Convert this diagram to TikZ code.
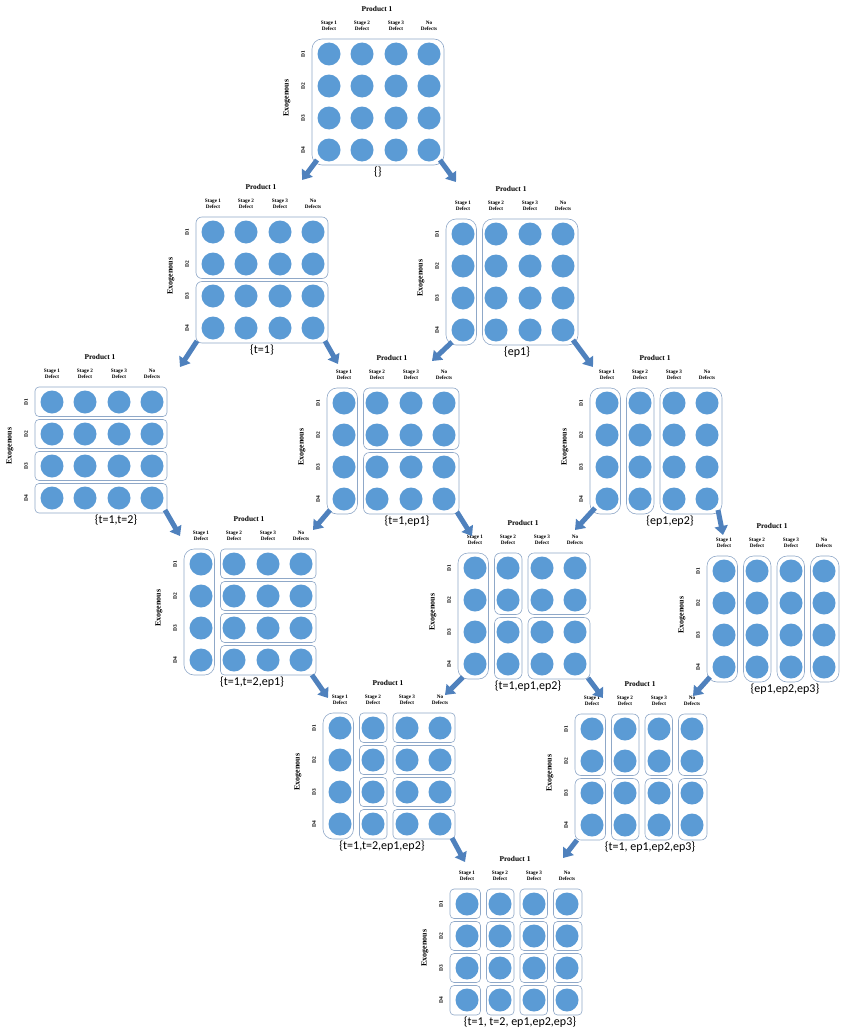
\documentclass[tikz,border=0pt]{standalone}
\usepackage{fontspec}
\setmainfont{Liberation Serif}
\newfontfamily\labfont{Carlito}
\usetikzlibrary{arrows.meta}
\definecolor{dotblue}{HTML}{5B9BD5}
\definecolor{arrblue}{HTML}{4F81BD}
\definecolor{boxline}{HTML}{8FA8C8}
\tikzset{
  dot/.style={fill=dotblue},
  grp/.style={draw=boxline, line width=0.6pt},
  ttl/.style={font=\bfseries\fontsize{7.4}{8}\selectfont, inner sep=0pt},
  hdr/.style={font=\bfseries\fontsize{5.2}{6}\selectfont, align=center, inner sep=0pt},
  dlab/.style={font=\bfseries\fontsize{5.4}{6}\selectfont, rotate=90, inner sep=0pt},
  exo/.style={font=\bfseries\fontsize{8}{9}\selectfont, rotate=90, inner sep=0pt},
  setlab/.style={font=\labfont\fontsize{12}{14}\selectfont, inner sep=0pt},
  bigarrow/.style={draw=arrblue, line width=5pt, -{Triangle[width=13pt,length=9pt]}}
}
\newcommand\colL[1]{\ifcase#1\or0\or36.5\or70\or103.5\fi}
\newcommand\colR[1]{\ifcase#1\or30.5\or64\or97.5\or132\fi}
\newcommand\rowT[1]{\ifcase#1\or0\or32.5\or64.5\or96.5\fi}
\newcommand\rowB[1]{\ifcase#1\or29.5\or61.5\or93.5\or126\fi}
% #1 name, #2 bx, #3 by, #4 groups, #5 label dx, #6 label
\newcommand\drawpanel[6]{%
  \begin{scope}[shift={(#2,#3)}]
    \node[ttl] (#1-t) at (65,-30) {Product 1};
    \node[hdr] (#1-h1) at (17,-13) {Stage 1\\Defect};
    \node[hdr] (#1-h2) at (50,-13) {Stage 2\\Defect};
    \node[hdr] (#1-h3) at (84,-13) {Stage 3\\Defect};
    \node[hdr] (#1-h4) at (117,-13) {No\\Defects};
    \node[dlab] (#1-d1) at (-9,15) {D1};
    \node[dlab] (#1-d2) at (-9,47) {D2};
    \node[dlab] (#1-d3) at (-9,79) {D3};
    \node[dlab] (#1-d4) at (-9,111) {D4};
    \node[exo] (#1-exo) at (-25,59) {Exogenous};
    \foreach \ca/\cb/\ra/\rb in {#4}{%
      \edef\gl{\colL{\ca}}\edef\gr{\colR{\cb}}%
      \edef\gt{\rowT{\ra}}\edef\gb{\rowB{\rb}}%
      \pgfmathsetmacro\rad{(\rb-\ra>=3)?10:((\rb-\ra>=1)?6:4)}%
      \draw[grp, rounded corners=\rad pt] (\gl,\gt) rectangle (\gr,\gb);
    }
    \foreach \cx in {17,50,84,117}{\foreach \cy in {15,47,79,111}{%
      \fill[dot] (\cx,\cy) circle[radius=11.5pt];}}
    \node[setlab] (#1-lab) at (#5,133) {#6};
  \end{scope}
}
\begin{document}
\begin{tikzpicture}[x=1pt,y=-1pt]
\useasboundingbox (0,0) rectangle (846,1033);
\fill[white] (0,0) rectangle (846,1033);

\drawpanel{p1}{312}{39}{1/4/1/4}{66}{\{\}}
\drawpanel{p2}{196}{217}{1/4/1/2,1/4/3/4}{66}{\{t=1\}}
\drawpanel{p3}{446}{219}{1/1/1/4,2/4/1/4}{71}{\{ep1\}}
\drawpanel{p4}{35}{387}{1/4/1/1,1/4/2/2,1/4/3/3,1/4/4/4}{81}{\{t=1,t=2\}}
\drawpanel{p5}{327}{388}{1/1/1/4,2/4/1/2,2/4/3/4}{80}{\{t=1,ep1\}}
\drawpanel{p6}{590}{388}{1/1/1/4,2/2/1/4,3/4/1/4}{80}{\{ep1,ep2\}}
\drawpanel{p7}{184}{549}{1/1/1/4,2/4/1/1,2/4/2/2,2/4/3/3,2/4/4/4}{68}{\{t=1,t=2,ep1\}}
\drawpanel{p8}{458}{553}{1/1/1/4,2/2/1/2,2/2/3/4,3/4/1/2,3/4/3/4}{70}{\{t=1,ep1,ep2\}}
\drawpanel{p9}{707}{556}{1/1/1/4,2/2/1/4,3/3/1/4,4/4/1/4}{78}{\{ep1,ep2,ep3\}}
\drawpanel{p10}{323}{713}{1/1/1/4,2/2/1/1,2/2/2/2,2/2/3/3,2/2/4/4,3/4/1/1,3/4/2/2,3/4/3/3,3/4/4/4}{59}{\{t=1,t=2,ep1,ep2\}}
\drawpanel{p11}{575}{714}{1/1/1/2,1/1/3/4,2/2/1/2,2/2/3/4,3/3/1/2,3/3/3/4,4/4/1/2,4/4/3/4}{75}{\{t=1, ep1,ep2,ep3\}}
\drawpanel{p12}{450}{889}{1/1/1/1,1/1/2/2,1/1/3/3,1/1/4/4,2/2/1/1,2/2/2/2,2/2/3/3,2/2/4/4,3/3/1/1,3/3/2/2,3/3/3/3,3/3/4/4,4/4/1/1,4/4/2/2,4/4/3/3,4/4/4/4}{70}{\{t=1, t=2, ep1,ep2,ep3\}}

% arrows
\coordinate (a1s) at (317,160);  \coordinate (a1e) at (302,180);
\coordinate (a2s) at (440,160);  \coordinate (a2e) at (456,182);
\coordinate (a3s) at (197,341);  \coordinate (a3e) at (180,367);
\coordinate (a4s) at (325,341);  \coordinate (a4e) at (338,364);
\coordinate (a5s) at (452,342);  \coordinate (a5e) at (432,361);
\coordinate (a6s) at (573,340);  \coordinate (a6e) at (593,367);
\coordinate (a7s) at (165,510);  \coordinate (a7e) at (180,536);
\coordinate (a8s) at (330,510);  \coordinate (a8e) at (313,530);
\coordinate (a9s) at (457,512);  \coordinate (a9e) at (472,536);
\coordinate (a10s) at (595,508); \coordinate (a10e) at (575,530);
\coordinate (a11s) at (718,510); \coordinate (a11e) at (723,535);
\coordinate (a12s) at (312,675); \coordinate (a12e) at (328,698);
\coordinate (a13s) at (463,677); \coordinate (a13e) at (445,695);
\coordinate (a14s) at (588,678); \coordinate (a14e) at (603,698);
\coordinate (a15s) at (710,677); \coordinate (a15e) at (693,696);
\coordinate (a16s) at (452,838); \coordinate (a16e) at (465,862);
\coordinate (a17s) at (577,840); \coordinate (a17e) at (563,858);
\foreach \i in {1,...,17}{\draw[bigarrow] (a\i s) -- (a\i e);}
\end{tikzpicture}
\end{document}
